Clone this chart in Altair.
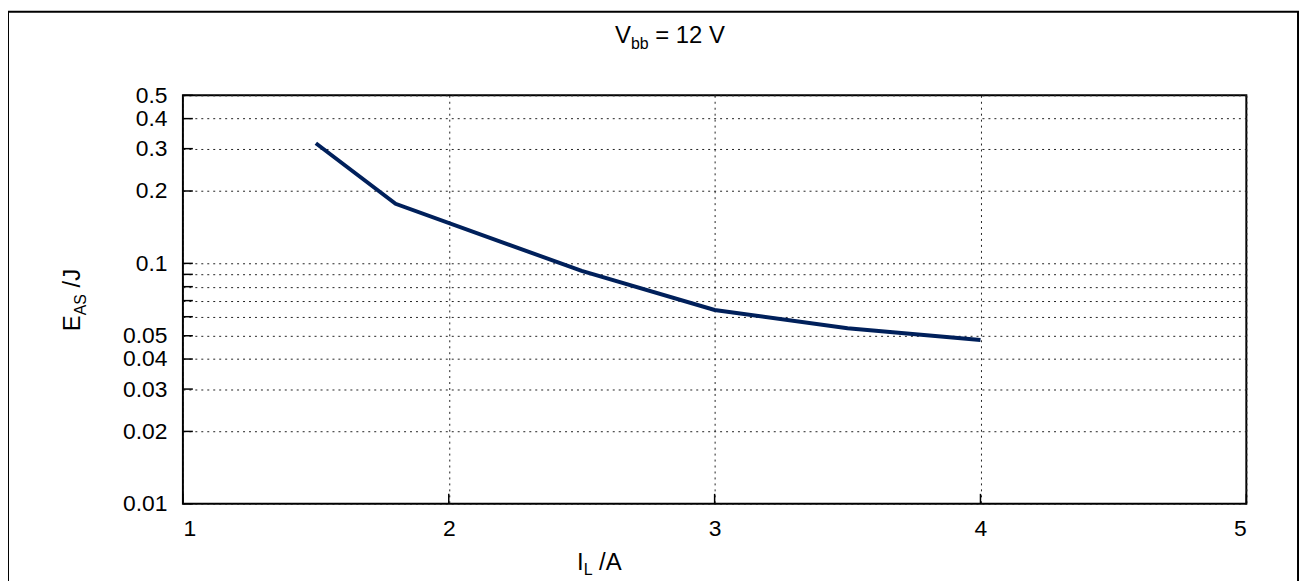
import altair as alt
import pandas as pd

# ---- data ----
current = [1.5, 1.8, 2.5, 3.0, 3.5, 4.0]          # I_L / A
energy = [0.316, 0.177, 0.093, 0.064, 0.0537, 0.048]  # E_AS / J
y_ticks = [0.01, 0.02, 0.03, 0.04, 0.05, 0.06, 0.07, 0.08, 0.09, 0.1, 0.2, 0.3, 0.4, 0.5]
x_ticks = [1, 2, 3, 4, 5]
title_parts = ["V", "bb", "= 12 V"]
ytitle_parts = ["E", "AS", "/J"]
xtitle_parts = ["I", "L", "/A"]

W, H = 1070, 411
FONT = "Liberation Sans"
FS = 24     # title font size
LFS = 23    # tick label font size
SUB = 16
SP = 0.278 * FS  # width of a space

xs = alt.Scale(domain=[1, 5], nice=False, zero=False)
ys = alt.Scale(type="log", domain=[0.01, 0.5], nice=False)

df = pd.DataFrame({"I": current, "E": energy})

x_axis = alt.Axis(values=x_ticks, grid=True, gridDash=[2, 4], gridColor="#222", gridWidth=1,
                  ticks=False, domain=False, labelPadding=14, labelFontSize=LFS, labelFont=FONT,
                  labelColor="black", title=None, format="d", labelOverlap=False)
y_axis = alt.Axis(values=y_ticks, grid=True, gridDash=[2, 4], gridColor="#222", gridWidth=1,
                  ticks=False, domain=False, labelPadding=16, labelFontSize=LFS, labelFont=FONT,
                  labelColor="black", title=None, labelOverlap=False,
                  labelExpr="(datum.value > 0.055 && datum.value < 0.095) ? '' : format(datum.value, '~g')")

line = alt.Chart(df).mark_line(color="#00205b", strokeWidth=4).encode(
    x=alt.X("I:Q", scale=xs, axis=x_axis),
    y=alt.Y("E:Q", scale=ys, axis=y_axis),
)

ytick_layer = alt.Chart(pd.DataFrame({"E": y_ticks})).mark_rule(color="black", strokeWidth=1.5).encode(
    y=alt.Y("E:Q", scale=ys), x=alt.value(0), x2=alt.value(10))
xtick_layer = alt.Chart(pd.DataFrame({"I": x_ticks})).mark_rule(color="black", strokeWidth=1.5).encode(
    x=alt.X("I:Q", scale=xs), y=alt.value(H), y2=alt.value(H - 10))

one = alt.Data(values=[{}])


def txt(s, x, y, size, **kw):
    return alt.Chart(one).mark_text(text=s, align="left", baseline="alphabetic", fontSize=size,
                                    font=FONT, color="black", **kw).encode(x=alt.value(x), y=alt.value(y))


# title V_bb = 12 V
w_v = 0.667 * FS
w_bb = 1.112 * SUB
w_rest = 2.919 * FS
tw = w_v + w_bb + SP + w_rest
tx = 490 - tw / 2
ty = -53
title_layers = [
    txt(title_parts[0], tx, ty, FS),
    txt(title_parts[1], tx + w_v, ty + 6, SUB),
    txt(title_parts[2], tx + w_v + w_bb + SP, ty, FS),
]

# y title E_AS /J (rotated)
w_e = 0.667 * FS
w_as = 1.334 * SUB
w_j = 0.778 * FS
yl = w_e + w_as + SP + w_j
yx, yy = -104, 206 + yl / 2
ytitle_layers = [
    txt(ytitle_parts[0], yx, yy, FS, angle=270),
    txt(ytitle_parts[1], yx, yy, SUB, angle=270, dx=w_e, dy=6),
    txt(ytitle_parts[2], yx, yy, FS, angle=270, dx=w_e + w_as + SP),
]

# x title I_L /A
w_i = 0.278 * FS
w_l = 0.556 * SUB
w_a = 0.945 * FS
xl = w_i + w_l + SP + w_a
xx, xy = 419 - xl / 2, 478
xtitle_layers = [
    txt(xtitle_parts[0], xx, xy, FS),
    txt(xtitle_parts[1], xx + w_i, xy + 5, SUB),
    txt(xtitle_parts[2], xx + w_i + w_l + SP, xy, FS),
]

border = alt.Chart(one).mark_rect(fillOpacity=0, stroke="black", strokeWidth=2).encode(
    x=alt.value(-176), x2=alt.value(1122), y=alt.value(-84), y2=alt.value(560))

chart = alt.layer(line, ytick_layer, xtick_layer, border, *title_layers, *ytitle_layers, *xtitle_layers).properties(
    width=W, height=H,
    padding={"left": 176, "top": 86, "right": 54, "bottom": 103},
    autosize=alt.AutoSizeParams(type="none"),
    background="white",
).configure_view(stroke="black", strokeWidth=2)

chart.save("out.html", embed_options={"renderer": "svg", "actions": False})
